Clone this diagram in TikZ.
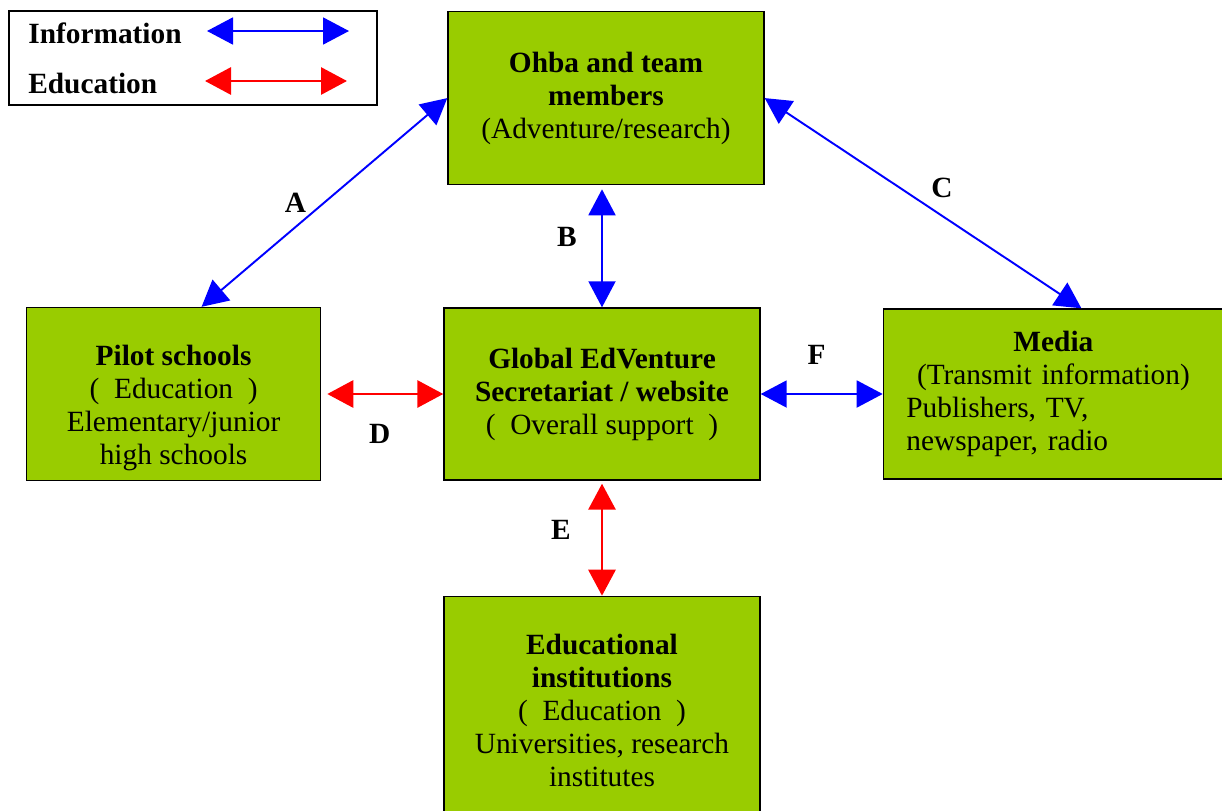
\documentclass[tikz,border=0pt]{standalone}
\usepackage{fontspec}
\setmainfont{Liberation Serif}
\usepackage{tikz}
\usetikzlibrary{arrows.meta,positioning}
\definecolor{boxgreen}{RGB}{153,204,0}
\definecolor{infoblue}{RGB}{0,0,255}
\definecolor{edured}{RGB}{255,0,0}

\begin{document}
\begin{tikzpicture}[% styles for all boxes and arrows
			every node/.style={
				align=center,		% "\\" breaks lines
				font=\fontsize{16.7}{18.8}\selectfont
			},
			box/.style={rectangle,draw=black,line width=0.8pt,fill=boxgreen,inner sep=0pt,minimum width=6.32cm,minimum height=3.44cm},
			lab/.style={font=\fontsize{16.7}{18.8}\selectfont\bfseries},
			info/.style={draw=infoblue,line width=1.1pt,{Triangle[length=0.52cm,width=0.54cm]}-{Triangle[length=0.52cm,width=0.54cm]}},
			edu/.style={draw=edured,line width=1.7pt,{Triangle[length=0.52cm,width=0.54cm]}-{Triangle[length=0.52cm,width=0.54cm]}}
		]
		\path[use as bounding box,clip] (0,0) rectangle (24.44,-16.22);
		% legend
		\node[rectangle,draw=black,line width=0.8pt,inner sep=0pt,minimum width=7.36cm,minimum height=1.88cm](R0) at (3.86,-1.16){};
		\node[lab,anchor=west,inner sep=0pt](R0a) at (0.56,-0.66){Information};
		\node[lab,anchor=west,inner sep=0pt](R0b) at (0.56,-1.66){Education};
		\coordinate (i1) at (4.14,-0.62);
		\coordinate (i2) at (6.98,-0.62);
		\coordinate (e1) at (4.10,-1.62);
		\coordinate (e2) at (6.94,-1.62);
		% boxes
		\node[box](R1) at (12.04,-7.88){\textbf{Global EdVenture}\\\textbf{Secretariat / website}\\(\enspace Overall support\enspace)};
		\node[box,minimum height=3.46cm](R2)[above=2.44cm of R1,xshift=0.08cm]{\textbf{Ohba and team}\\\textbf{members}\\(Adventure/research)};
		\node[box,minimum width=5.88cm,minimum height=3.46cm](R3)[left=2.44cm of R1]{\rule{0pt}{27pt}\textbf{Pilot schools}\\(\enspace Education\enspace)\\Elementary/junior\\high schools};
		\node[box,minimum width=6.8cm,minimum height=3.40cm,text width=5.88cm,align=left](R4)[right=2.44cm of R1]{\makebox[\linewidth]{\textbf{Media}}\\\makebox[\linewidth]{(Transmit information)}\\Publishers, TV,\\newspaper, radio};
		\node[box,minimum height=4.56cm](R5)[below=2.30cm of R1]{\textbf{Educational}\\\textbf{institutions}\\(\enspace Education\enspace)\\Universities, research\\institutes};
		\path
		(i1)edge [info] (i2)
		(e1)edge [edu] (e2)
		(R2.west)edge [info] node [lab,xshift=-0.58cm] {A} ([xshift=0.56cm]R3.north)
		(R1.north |- R2.south)edge [info,shorten <=0.08cm] node [lab,xshift=-0.7cm,yshift=0.18cm] {B} (R1.north)
		(R2.east)edge [info] node [lab,xshift=0.38cm,yshift=0.3cm] {C} ([xshift=0.56cm]R4.north)
		(R3.east)edge [edu,shorten <=0.12cm] node [lab,xshift=-0.05cm,yshift=-0.8cm] {D} (R1.west)
		(R1.south)edge [edu,shorten <=0.06cm] node [lab,xshift=-0.82cm,yshift=0.16cm] {E} (R5.north)
		(R1.east)edge [info] node [lab,xshift=-0.1cm,yshift=0.78cm] {F} (R4.west)
		;
	\end{tikzpicture}
\end{document}
